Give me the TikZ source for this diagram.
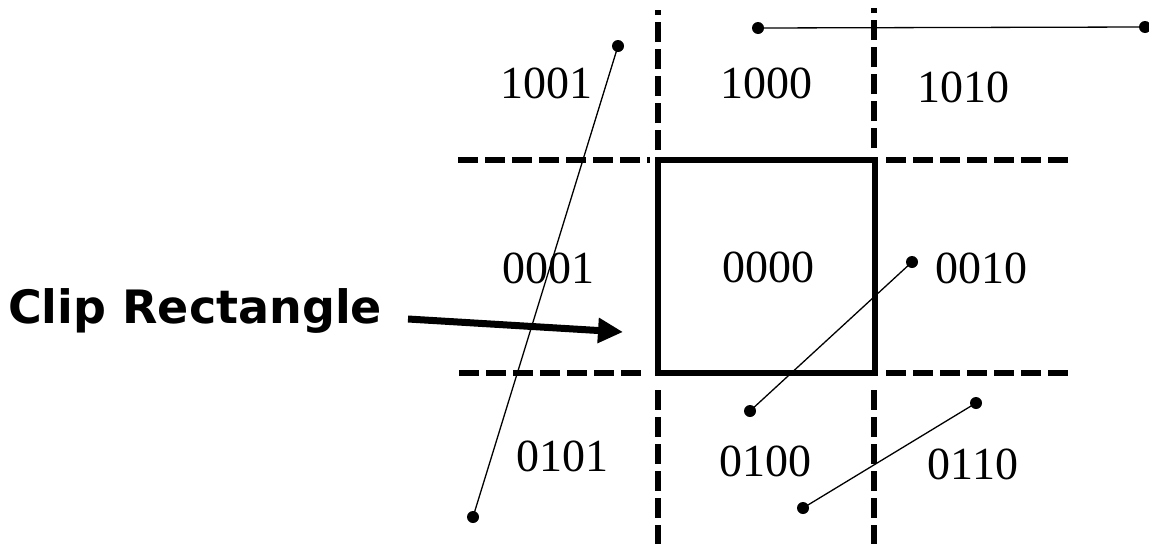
\documentclass[tikz,border=0pt]{standalone}
\usepackage{fontspec}
\setmainfont{Liberation Serif}
\newfontfamily\labfont{DejaVu Sans}
\usetikzlibrary{arrows.meta}
\begin{document}
\begin{tikzpicture}[x=1pt,y=-1pt,
  region/.style={font=\fontsize{46}{46}\selectfont, inner sep=0pt},
  endpt/.style={circle, fill=black, inner sep=0pt, minimum size=12pt},
  seg/.style={line width=1.3pt},
  gridline/.style={line width=6pt, dash pattern=on 20pt off 7pt},
  clipbox/.style={draw, line width=6.5pt, inner sep=0pt, minimum width=217pt, minimum height=213pt},
  pointer/.style={line width=7pt, -{Triangle[length=25pt,width=24pt]}}
]
\fill[white] (0,0) rectangle (1149,544);
\useasboundingbox (0,0) rectangle (1149,544);

% dashed region boundaries
\draw[gridline] (658,150) -- (658,10);
\draw[gridline] (874,148) -- (874,8);
\draw[gridline] (658,390) -- (658,544);
\draw[gridline] (874,390) -- (874,544);
\draw[gridline] (458,160) -- (650,160);
\draw[gridline] (886,160) -- (1068,160);
\draw[gridline] (459,373) -- (641,373);
\draw[gridline] (886,373) -- (1068,373);

% clip rectangle
\node[clipbox] (clip) at (766.5,266.5) {};

% region codes
\node[region] (r1001) at (546,83) {1001};
\node[region] (r1000) at (766,83) {1000};
\node[region] (r1010) at (963,87) {1010};
\node[region] (r0001) at (548,268) {0001};
\node[region] (r0000) at (768,267) {0000};
\node[region] (r0010) at (981,268) {0010};
\node[region] (r0101) at (562,456) {0101};
\node[region] (r0100) at (765,461) {0100};
\node[region] (r0110) at (973,464) {0110};

% line segments
\node[endpt] (a1) at (618,46) {};
\node[endpt] (a2) at (473,517) {};
\node[endpt] (b1) at (758,28) {};
\node[endpt] (b2) at (1145,27) {};
\node[endpt] (c1) at (912,262) {};
\node[endpt] (c2) at (750,411) {};
\node[endpt] (d1) at (976,403) {};
\node[endpt] (d2) at (803,508) {};
\draw[seg] (a1.center) -- (a2.center);
\draw[seg] (b1.center) -- (b2.center);
\draw[seg] (c1.center) -- (c2.center);
\draw[seg] (d1.center) -- (d2.center);

% label and arrow
\node[anchor=base west, inner sep=0pt, font=\labfont\bfseries\fontsize{46}{46}\selectfont] (cliplabel) at (8,323) {Clip Rectangle};
\coordinate (arrowtail) at (408,319);
\coordinate (arrowtip) at (623,332);
\draw[pointer] (arrowtail) -- (arrowtip);
\end{tikzpicture}
\end{document}
